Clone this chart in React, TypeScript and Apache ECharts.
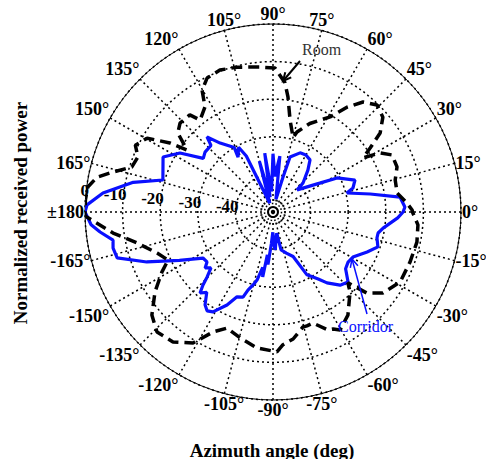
import React, { useEffect, useRef } from "react";
import * as echarts from "echarts";

// Axis definitions
const ANGLE_MIN = -180;
const ANGLE_MAX = 180;
const ANGLE_STEP = 15;
const RADIUS_MIN = -50;
const RADIUS_MAX = 0;
const RADIUS_STEP = 10;
const RADIAL_TICK_LABELS = [0, -10, -20, -30, -40];
const RADIAL_LABEL_ANGLE = 174;

// Room (black dashed): azimuth (deg) and normalized power (dB)
const roomAngles = [
  -180, -178.8, -172.5, -167.2, -160.5, -155.4, -151.6, -145.9, -139.6, -134, -127.6, -121.4,
  -116.6, -111.6, -104.7, -96.7, -88.4, -85.7, -81, -75.4, -73.4, -70.2, -65, -62.8, -60.4,
  -54, -46, -43.4, -40.8, -36.4, -28.9, -20, -11.8, -5.1, -0.4, 0.8, 3.8, 8.7, 14.7, 20,
  25.6, 28.9, 31, 33.4, 36.4, 40.8, 45.8, 50.7, 54.8, 59, 67.4, 73.3, 74.9, 79.5, 82.6, 84.7,
  89.2, 95.1, 104, 110.5, 116.2, 120.2, 122.9, 128.4, 130.6, 136.3, 140.3, 144.2, 146.2,
  149.6, 154.1, 157.8, 162.3, 166, 168.8, 172.3, 176.3, 180,
];
const roomPower = [
  0, 0, -7.1, -12.9, -17.3, -19.3, -16.4, -12.1, -7.7, -5.6, -6.4, -9.2,
  -14.3, -16.8, -15.4, -13.6, -12.8, -14.6, -15.8, -18.4, -18.4, -18.6, -15.4, -15, -13.9,
  -16.1, -20.5, -22.6, -17, -13.7, -11.4, -11.2, -10.9, -11.3, -12.8, -13, -14.3, -16.6, -16.4, -14.9,
  -14.9, -17.5, -22, -19, -14.6, -11.4, -10.3, -12.2, -15.9, -20.5, -24.5, -27.8, -29.5, -25.1, -19.1, -15.5,
  -11.7, -11.3, -10.3, -9.7, -10.3, -12.5, -16.7, -18.8, -16, -15.8, -17.1, -21.8, -17,
  -11.2, -9.3, -11.2, -10.6, -6.1, -2.3, -0.3, 0, 0,
];

// Corridor (blue solid): azimuth (deg) and normalized power (dB)
const corridorAngles = [
  -180, -176, -173.4, -170, -167.3, -163.6, -158.4, -152.7, -146.7, -142.9, -140.5, -138,
  -135.4, -133.8, -132, -129.5, -126.2, -123.7, -121, -116.3, -113, -109.4, -107.8, -105.3,
  -103.2, -100.5, -99, -97.5, -95.5, -93, -90.5, -88, -86.5, -84, -80, -78, -72, -65.7,
  -61.6, -56, -52.7, -47.5, -43, -38, -33.7, -29.4, -23, -18.4, -14, -11.3, -8.3, -2.7, 0,
  2.2, 6.7, 10.5, 14.4, 16.7, 21.3, 28, 31.7, 42.5, 44, 50.2, 54.6, 60, 65.4, 72.8, 74, 77,
  83, 87, 90, 94, 98, 101, 105, 110, 115.5, 118, 122.5, 121, 127.5, 131.3, 133,
  138.6, 142.4, 147.6, 153.4, 163.8, 168, 173.6, 177.8, 180,
];
const corridorPower = [
  0, -1.5, -3.7, -6.8, -6.4, -6.8, -13.9, -22, -27.7, -28, -26.6, -27.8,
  -25.4, -23.1, -21, -22.3, -19.4, -18.4, -19, -22.4, -25.5, -26, -28.2, -29.9,
  -31.4, -35, -32.5, -38.5, -36, -41.5, -44.6, -41, -39.9, -42.5, -44.3, -39.7, -38.5, -37,
  -31, -28.5, -26.3, -23.6, -22.7, -25.5, -26, -25.6, -22.8, -20.6, -21.5, -21.5, -20.4, -16.8, -15.4,
  -14.9, -16, -23.7, -29.7, -27.8, -26.6, -30.7, -35.4, -41.3, -38.9, -35.5, -33, -32.5, -32.7, -34.7, -40.3, -46.5,
  -35, -40.5, -34.5, -44.5, -34.2, -46, -36, -47.5, -33.5, -30.5, -32.7, -30, -26.9, -23.4, -25.8,
  -25.9, -26.6, -20.7, -17.3, -19.5, -12, -4.5, -0.5, 0,
];

const SERIF = '"Liberation Serif", "Times New Roman", serif';
const DOT_LINE = { color: "#000", type: [2, 3] as number[], width: 1.5 };
const BLUE = "#0a10ff";

function toPairs(angles: number[], power: number[]) {
  return angles.map((a, i) => [power[i], a]);
}

function arrow(x1: number, y1: number, x2: number, y2: number, color: string, width: number, head: number) {
  const a = Math.atan2(y2 - y1, x2 - x1);
  const p1 = [x2 - head * Math.cos(a - 0.45), y2 - head * Math.sin(a - 0.45)];
  const p2 = [x2 - head * Math.cos(a + 0.45), y2 - head * Math.sin(a + 0.45)];
  return [
    { type: "line", z: 100, shape: { x1, y1, x2, y2 }, style: { stroke: color, lineWidth: width } },
    {
      type: "polyline",
      z: 100,
      shape: { points: [p1, [x2, y2], p2] },
      style: { stroke: color, lineWidth: width, fill: null },
    },
  ];
}

function textEl(text: string, x: number, y: number, font: string, fill: string, align: string, vAlign: string, extra: any = {}) {
  return {
    type: "text",
    x,
    y,
    ...extra,
    style: {
      text,
      font,
      fill,
      align,
      verticalAlign: vAlign,
      textAlign: align,
      textVerticalAlign: vAlign,
    },
  };
}

export default function App() {
  const ref = useRef<HTMLDivElement>(null);
  useEffect(() => {
    if (!ref.current) return;
    const chart = echarts.init(ref.current, null, { renderer: "svg" });
    chart.setOption({
      animation: false,
      backgroundColor: "#fff",
      polar: { center: [273, 212], radius: 188 },
      angleAxis: {
        type: "value",
        min: ANGLE_MIN,
        max: ANGLE_MAX,
        interval: ANGLE_STEP,
        startAngle: 180,
        clockwise: false,
        axisLine: { show: true, lineStyle: { color: "#000", width: 1 } },
        axisTick: { show: false },
        axisLabel: {
          margin: 1,
          formatter: (v: number) => (v === ANGLE_MIN ? "{b|±180}" : v === ANGLE_MAX ? "" : `{b|${v}°}`),
          rich: {
            b: { color: "#000", fontFamily: SERIF, fontWeight: "bold", fontSize: 18 },
          },
        },
        splitLine: { show: true, lineStyle: DOT_LINE },
      },
      radiusAxis: {
        type: "value",
        min: RADIUS_MIN,
        max: RADIUS_MAX,
        interval: RADIUS_STEP,
        axisLine: { show: false },
        axisTick: { show: false },
        axisLabel: { show: false },
        splitLine: { show: true, lineStyle: DOT_LINE },
      },
      series: [
        {
          name: "Corridor",
          type: "line",
          coordinateSystem: "polar",
          data: toPairs(corridorAngles, corridorPower),
          showSymbol: false,
          symbol: "none",
          lineStyle: { color: BLUE, width: 3.2 },
          z: 3,
        },
        {
          name: "Room",
          type: "line",
          coordinateSystem: "polar",
          data: toPairs(roomAngles, roomPower),
          showSymbol: false,
          symbol: "none",
          lineStyle: { color: "#000", width: 3.5, type: [11, 6] },
          z: 4,
        },
      ],
    });

    const c = chart.convertToPixel({ polarIndex: 0 } as any, [RADIUS_MIN, 0]) as number[];
    const graphics: any[] = [];
    RADIAL_TICK_LABELS.forEach((v) => {
      const p = chart.convertToPixel({ polarIndex: 0 } as any, [v, RADIAL_LABEL_ANGLE]) as number[];
      graphics.push(textEl(String(v), p[0] + 3, p[1] - 2, `bold 17px ${SERIF}`, "#000", "right", "middle", { z: 1 }));
    });
    // bullseye at the origin
    graphics.push({ type: "circle", z: 1, shape: { cx: c[0], cy: c[1], r: 12 }, style: { fill: "none", stroke: "#000", lineWidth: 1.3, lineDash: [1.5, 2] } });
    graphics.push({ type: "circle", z: 1, shape: { cx: c[0], cy: c[1], r: 8.5 }, style: { fill: "#fff", stroke: "#000", lineWidth: 1.5, lineDash: [1.5, 2] } });
    graphics.push({ type: "circle", z: 1, shape: { cx: c[0], cy: c[1], r: 5 }, style: { fill: "#fff", stroke: "#000", lineWidth: 2 } });
    graphics.push({ type: "circle", z: 1, shape: { cx: c[0], cy: c[1], r: 2.2 }, style: { fill: "#000" } });

    // annotations
    graphics.push(textEl("Room", 302, 49, `16px ${SERIF}`, "#333", "left", "middle", { z: 100 }));
    graphics.push(...arrow(300, 61, 283, 81, "#000", 2, 9));
    graphics.push(textEl("Corridor", 338, 326, `16px ${SERIF}`, BLUE, "left", "middle", { z: 100 }));
    graphics.push(...arrow(367, 314, 352, 259, BLUE, 1.5, 9));

    // axis titles
    graphics.push(textEl("Azimuth angle (deg)", 272, 450, `bold 19px ${SERIF}`, "#000", "center", "middle", { z: 100 }));
    graphics.push(
      textEl("Normalized received power", 20, 213, `bold 19px ${SERIF}`, "#000", "center", "middle", {
        z: 100,
        rotation: Math.PI / 2,
      })
    );

    chart.setOption({ graphic: { elements: graphics } });
    return () => chart.dispose();
  }, []);
  return <div ref={ref} style={{ position: "absolute", left: 0, top: 0, width: 486, height: 459 }} />;
}
